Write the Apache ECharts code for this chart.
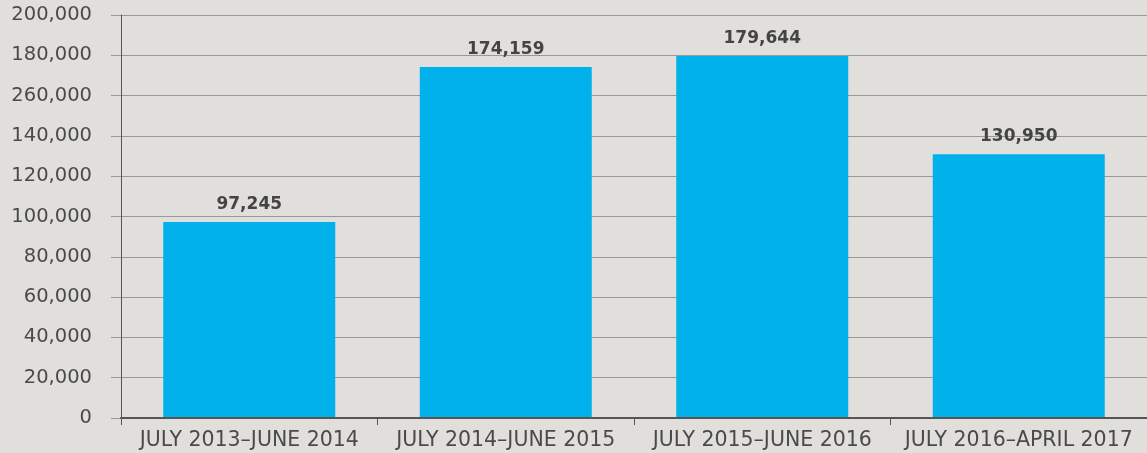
<!DOCTYPE html>
<html>
<head>
<meta charset="utf-8">
<script src="https://cdn.jsdelivr.net/npm/echarts@6/dist/echarts.min.js"></script>
<style>
  html, body { margin: 0; padding: 0; background: #e1dfdb; }
  #chart { width: 1147px; height: 453px; }
</style>
</head>
<body>
<div id="chart"></div>
<script>
// periods on the x axis
var categories = ['JULY 2013\u2013JUNE 2014', 'JULY 2014\u2013JUNE 2015', 'JULY 2015\u2013JUNE 2016', 'JULY 2016\u2013APRIL 2017'];
// bar values
var values = [97245, 174159, 179644, 130950];
// y tick labels as printed in the original (including its 260,000 typo)
var yTickLabels = ['0', '20,000', '40,000', '60,000', '80,000', '100,000', '120,000', '140,000', '260,000', '180,000', '200,000'];

var myChart = echarts.init(document.getElementById('chart'));
myChart.setOption({
    backgroundColor: '#e1dfdb',
    textStyle: { fontFamily: 'DejaVu Sans' },
    grid: { left: 121, top: 15, bottom: 35, width: 1028 },
    xAxis: {
        type: 'category',
        data: categories,
        z: 10,
        axisLine: { lineStyle: { color: '#555', width: 2 } },
        axisTick: { show: true, length: 7, lineStyle: { color: '#555', width: 1 } },
        axisLabel: { color: '#4a4a4a', fontSize: 20.5, margin: 12, interval: 0 }
    },
    yAxis: {
        type: 'value',
        min: 0,
        max: 200000,
        interval: 20000,
        axisLine: { show: true, lineStyle: { color: '#555', width: 1 } },
        axisTick: { show: true, inside: false, length: 10, lineStyle: { color: '#999' } },
        splitLine: { lineStyle: { color: '#9a9895', width: 1 } },
        axisLabel: {
            color: '#4a4a4a',
            fontSize: 19.5,
            margin: 29,
            padding: [6, 0, 0, 0],
            formatter: function (v) { return yTickLabels[Math.round(v / 20000)]; }
        }
    },
    series: [{
        type: 'bar',
        data: values,
        barWidth: 172,
        itemStyle: { color: '#00b1ec' },
        label: {
            show: true,
            position: 'top',
            distance: 9,
            color: '#444',
            fontSize: 17,
            fontWeight: 'bold',
            formatter: function (p) { return p.value.toLocaleString('en-US'); }
        }
    }]
});
</script>
</body>
</html>
